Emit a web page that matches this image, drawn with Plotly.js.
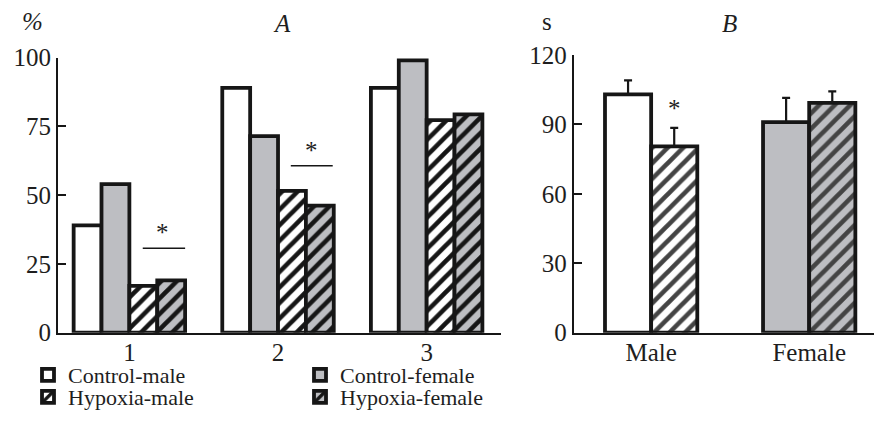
<!DOCTYPE html>
<html>
<head>
<meta charset="utf-8">
<script src="https://cdn.plot.ly/plotly-3.0.1.min.js"></script>
<style>html,body{margin:0;padding:0;background:#fff;}#chart{width:874px;height:423px;}</style>
</head>
<body>
<div id="chart"></div>
<script>
// ---- Data ----
const groupsA = ['1', '2', '3'];
const controlMaleA = [39, 89, 89];
const controlFemaleA = [54, 71.5, 99];
const hypoxiaMaleA = [17, 51.6, 77.3];
const hypoxiaFemaleA = [19, 46.2, 79.4];

const sexB = ['Male', 'Female'];
const controlB = [103, 91];
const controlBErr = [6, 10.5];
const hypoxiaB = [80.5, 99.3];
const hypoxiaBErr = [8, 5];

const tickValsA = [0, 25, 50, 75, 100];
const tickValsB = [0, 30, 60, 90, 120];

// ---- Styles ----
const INK = '#161616';
const GRAY = '#bdbec2';
const FONT = '"Liberation Serif", "Times New Roman", serif';
const outline = {color: INK, width: 3.8};
const stripe = (bg) => ({shape: '/', fgcolor: INK, bgcolor: bg, fgopacity: 1, size: 11, solidity: 0.42, fillmode: 'overlay'});

const traces = [
  {type: 'bar', name: 'Control-male', x: groupsA, y: controlMaleA, xaxis: 'x', yaxis: 'y',
   marker: {color: '#ffffff', line: outline}, legend: 'legend'},
  {type: 'bar', name: 'Control-female', x: groupsA, y: controlFemaleA, xaxis: 'x', yaxis: 'y',
   marker: {color: GRAY, line: outline}, legend: 'legend2'},
  {type: 'bar', name: 'Hypoxia-male', x: groupsA, y: hypoxiaMaleA, xaxis: 'x', yaxis: 'y',
   marker: {color: '#ffffff', line: outline, pattern: stripe('#ffffff')}, legend: 'legend3'},
  {type: 'bar', name: 'Hypoxia-female', x: groupsA, y: hypoxiaFemaleA, xaxis: 'x', yaxis: 'y',
   marker: {color: GRAY, line: outline, pattern: stripe(GRAY)}, legend: 'legend4'},
  {type: 'bar', name: 'Control', x: sexB, y: controlB, xaxis: 'x2', yaxis: 'y2', showlegend: false,
   width: 0.292, offset: -0.292,
   marker: {color: ['#ffffff', GRAY], line: outline},
   error_y: {type: 'data', array: controlBErr, arrayminus: [0, 0], symmetric: false, color: INK, thickness: 2.2, width: 4}},
  {type: 'bar', name: 'Hypoxia', x: sexB, y: hypoxiaB, xaxis: 'x2', yaxis: 'y2', showlegend: false,
   width: 0.292, offset: 0,
   marker: {color: ['#ffffff', GRAY], line: outline, pattern: {shape: '/', fgcolor: INK, fgopacity: 1, size: 11, solidity: 0.42, fillmode: 'overlay'}},
   error_y: {type: 'data', array: hypoxiaBErr, arrayminus: [0, 0], symmetric: false, color: INK, thickness: 2.2, width: 4}}
];

const axisFont = {family: FONT, size: 25, color: '#1e1e1e'};
const yCommon = {showline: true, linecolor: INK, linewidth: 2, ticks: 'inside', ticklen: 8, tickwidth: 2, tickcolor: INK,
  showgrid: false, zeroline: false, tickfont: axisFont, fixedrange: true};
const xCommon = {type: 'category', showline: true, linecolor: INK, linewidth: 2, ticks: '', showgrid: false, zeroline: false,
  tickfont: axisFont, fixedrange: true, ticklabelstandoff: -4};

const legendBase = {orientation: 'v', font: {family: FONT, size: 22, color: '#1e1e1e'}, bgcolor: 'rgba(0,0,0,0)',
  xanchor: 'left', yanchor: 'middle', itemclick: false, itemdoubleclick: false};

const annFont = {family: FONT, size: 25, color: '#1e1e1e'};
const ann = (o) => Object.assign({showarrow: false, font: annFont, xanchor: 'center', yanchor: 'middle'}, o);
const layout = {
  width: 874, height: 423,
  margin: {l: 0, r: 0, t: 0, b: 0},
  paper_bgcolor: '#fff', plot_bgcolor: '#fff',
  barmode: 'group', bargap: 0.25, bargroupgap: 0,
  showlegend: true,
  xaxis: Object.assign({}, xCommon, {domain: [0.0664, 0.5732], range: [-0.48, 2.5], anchor: 'y'}),
  yaxis: Object.assign({}, yCommon, {domain: [0.2135, 0.8636], range: [0, 100], tickvals: tickValsA, anchor: 'x'}),
  xaxis2: Object.assign({}, xCommon, {domain: [0.6564, 1], range: [-0.49, 1.41], anchor: 'y2'}),
  yaxis2: Object.assign({}, yCommon, {domain: [0.2135, 0.870], range: [0, 120], tickvals: tickValsB, anchor: 'x2'}),
  legend: Object.assign({}, legendBase, {x: 28 / 874, y: 1 - 375 / 423}),
  legend2: Object.assign({}, legendBase, {x: 300 / 874, y: 1 - 375 / 423}),
  legend3: Object.assign({}, legendBase, {x: 28 / 874, y: 1 - 397 / 423}),
  legend4: Object.assign({}, legendBase, {x: 300 / 874, y: 1 - 397 / 423}),
  shapes: [
    {type: 'line', xref: 'x', yref: 'y', x0: 0.09, x1: 0.375, y0: 30.7, y1: 30.7, line: {color: INK, width: 1.5}},
    {type: 'line', xref: 'x', yref: 'y', x0: 1.086, x1: 1.368, y0: 60.7, y1: 60.7, line: {color: INK, width: 1.5}}
  ],
  annotations: [
    ann({xref: 'x', yref: 'y', x: 0.226, y: 36.3, text: '*'}),
    ann({xref: 'x', yref: 'y', x: 1.224, y: 66.3, text: '*'}),
    ann({xref: 'x2', yref: 'y2', x: 0.146, y: 97, text: '*'}),
    ann({xref: 'paper', yref: 'paper', x: 32 / 874, y: 1 - 22 / 423, text: '<i>%</i>'}),
    ann({xref: 'paper', yref: 'paper', x: 282 / 874, y: 1 - 24 / 423, text: '<i>A</i>'}),
    ann({xref: 'paper', yref: 'paper', x: 547 / 874, y: 1 - 22 / 423, text: 's'}),
    ann({xref: 'paper', yref: 'paper', x: 729 / 874, y: 1 - 24 / 423, text: '<i>B</i>'})
  ]
};

Plotly.newPlot('chart', traces, layout, {displayModeBar: false, staticPlot: true});
</script>
</body>
</html>
